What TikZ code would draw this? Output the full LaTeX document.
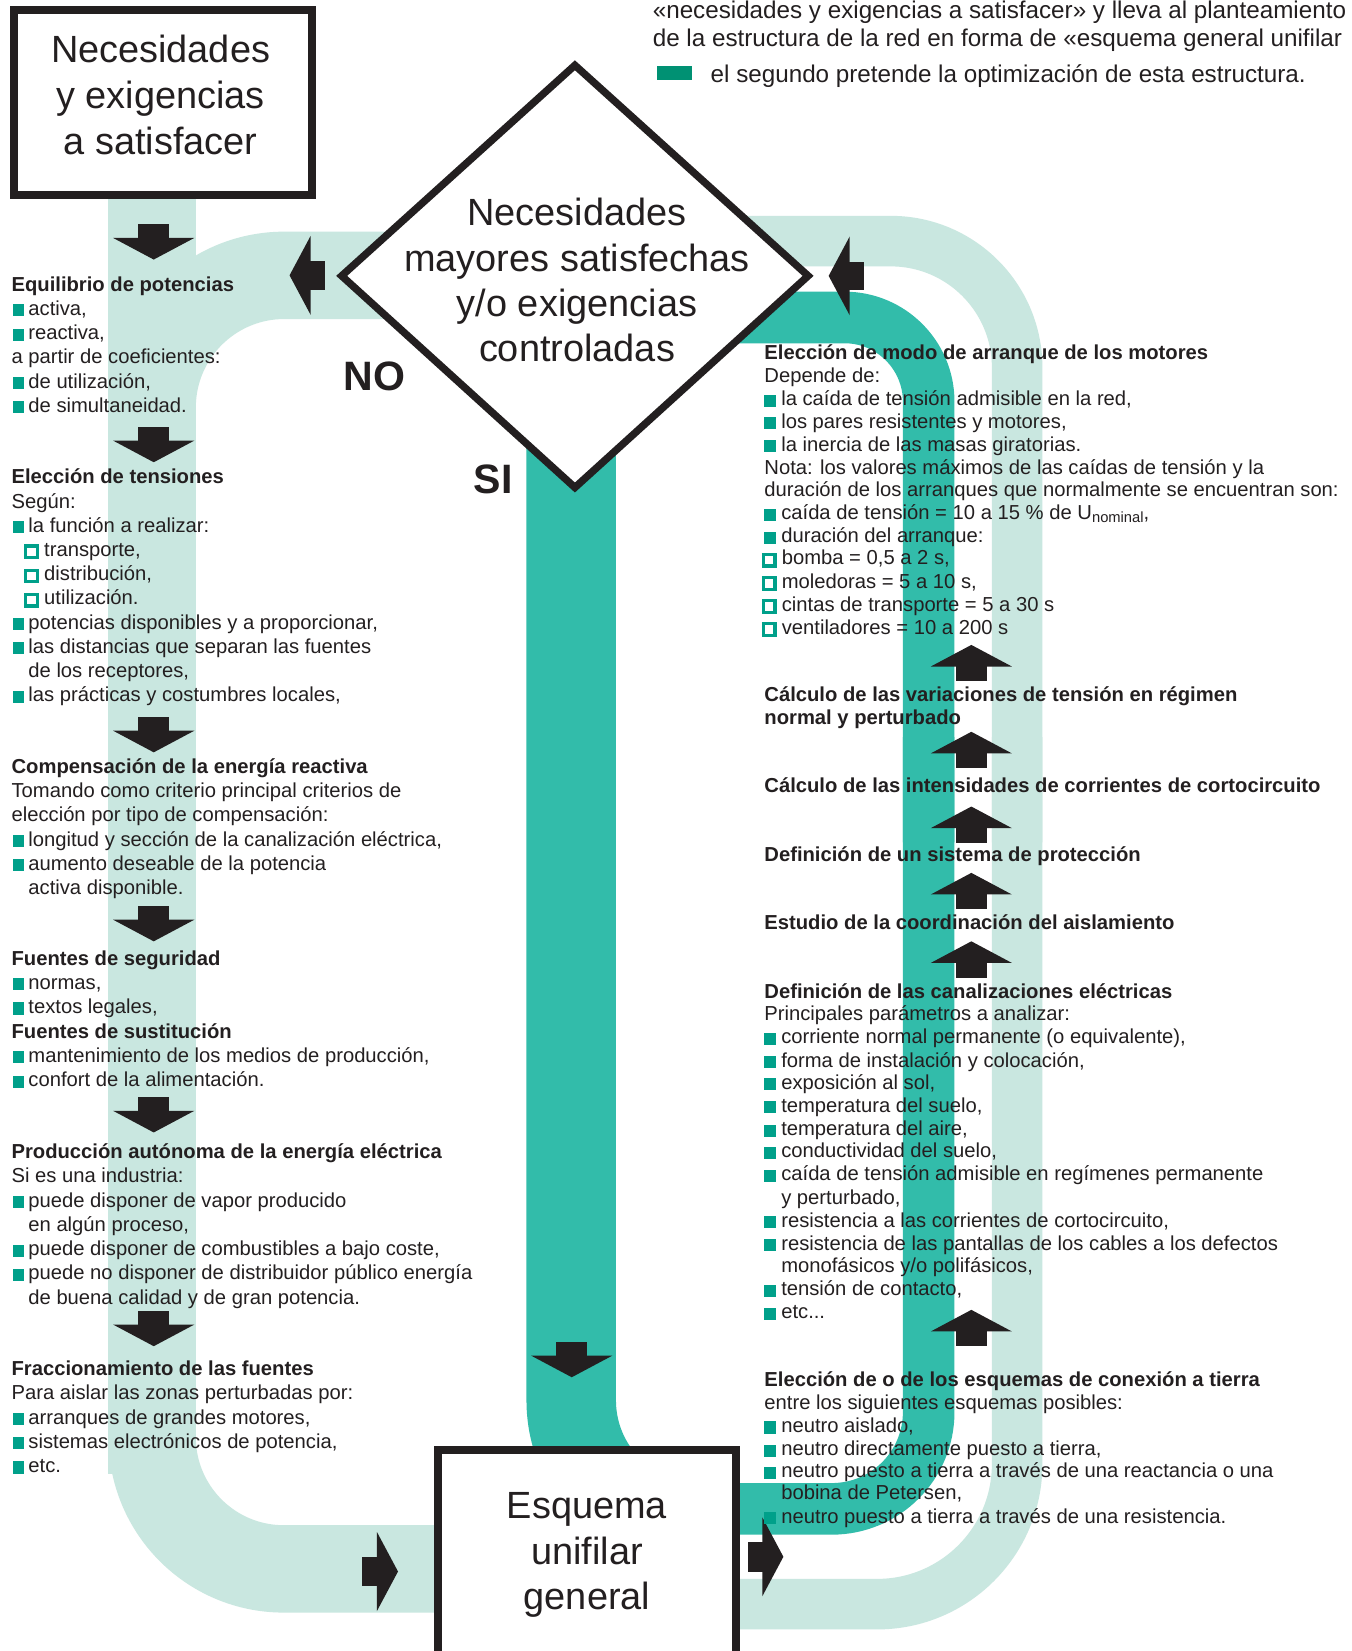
\documentclass[tikz,border=0pt]{standalone}
\usepackage{fontspec}
\setmainfont{Liberation Sans}
\definecolor{palec}{RGB}{201,231,224}
\definecolor{tealc}{RGB}{50,188,170}
\definecolor{bulletc}{RGB}{0,160,138}
\definecolor{legendc}{RGB}{0,145,115}
\definecolor{darkc}{RGB}{35,31,32}
\newcommand\bsqf{\textcolor{bulletc}{\rule[-1pt]{11pt}{11.5pt}}\hspace{4pt}}
\newcommand\bsqr{\textcolor{bulletc}{\rule[-1pt]{11pt}{11.5pt}}\hspace{5pt}}
\newcommand\bsqh{\textcolor{bulletc}{\setlength\fboxrule{3pt}\setlength\fboxsep{0pt}\raisebox{0.5pt}{\fbox{\rule{0pt}{8pt}\rule{8pt}{0pt}}}}\hspace{5pt}}
\tikzset{
  txt/.style={anchor=base west, inner sep=0pt, outer sep=0pt, text=darkc, font=\fontsize{19.2}{23}\selectfont},
  hd/.style={txt, font=\fontsize{19.2}{23}\selectfont\bfseries},
  toptxt/.style={txt, font=\fontsize{23}{27}\selectfont},
  bigtxt/.style={anchor=base, inner sep=0pt, outer sep=0pt, text=darkc, font=\fontsize{36}{43}\selectfont},
  yesno/.style={anchor=base west, inner sep=0pt, outer sep=0pt, text=darkc, font=\fontsize{39}{39}\selectfont\bfseries},
  paleband/.style={draw=palec, line width=#1},
  tealband/.style={draw=tealc, line width=#1},
  darr/.pic={\fill[darkc] (-14.5,-13) rectangle (14.5,0.5); \fill[darkc] (-38.5,0) -- (38.5,0) -- (0,20.5) -- cycle;},
  uarr/.pic={\fill[darkc] (-14.5,-0.5) rectangle (14.5,14); \fill[darkc] (-38.5,0) -- (38.5,0) -- (0,-20.5) -- cycle;},
  larr/.pic={\fill[darkc] (-0.5,-13.5) rectangle (14,13.5); \fill[darkc] (0,-37.5) -- (0,37.5) -- (-20,0) -- cycle;},
  rarr/.pic={\fill[darkc] (-14,-14) rectangle (0.5,14); \fill[darkc] (0,-37.5) -- (0,37.5) -- (20,0) -- cycle;}
}
\begin{document}
\begin{tikzpicture}[x=1pt,y=-1pt]
\useasboundingbox (0,0) rectangle (1284,1568);
\fill[white] (0,0) rectangle (1284,1568);

% ---------- bands ----------
\fill[palec] (103,186) rectangle (186,1400);
\draw[paleband=83, rounded corners=125.5] (400,261.5) -- (144.5,261.5) -- (144.5,600);
\draw[paleband=83, rounded corners=125] (144.5,1000) -- (144.5,1490) -- (450,1490);
\draw[paleband=48, rounded corners=120] (700,229) -- (966,229) -- (966,800);
\draw[paleband=48, rounded corners=133] (966,700) -- (966,1523.5) -- (690,1523.5);
\draw[tealband=49, rounded corners=80] (650,301.5) -- (882,301.5) -- (882,800);
\draw[tealband=49, rounded corners=92] (882,700) -- (882,1433) -- (690,1433);
\draw[tealband=85, rounded corners=120.5] (542.5,380) -- (542.5,1450.5) -- (690,1450.5);

% ---------- arrows ----------
\foreach \yy in {226,418.5,694,873.5,1055,1258} {\pic at (146,\yy) {darr};}
\foreach \yy in {633,715.5,786.5,849.5,914.5,1264.5} {\pic at (922.5,\yy) {uarr};}
\pic at (543,1287.5) {darr};
\pic at (295,261.5) {larr};
\pic at (807,262) {larr};
\pic at (358,1492.5) {rarr};
\pic at (724,1478.5) {rarr};

% ---------- boxes ----------
\draw[darkc, line width=7.5, fill=white] (13,9.2) rectangle (296.5,185.5);
\draw[darkc, line width=7.5, fill=white] (416,1377) rectangle (699,1620);
\draw[darkc, line width=7, fill=white, line join=miter] (546,62) -- (767.5,262) -- (546,463) -- (324.5,262) -- cycle;

\node[bigtxt] (b1) at (152.5,59.5) {Necesidades};
\node[bigtxt] (b2) at (152.5,103) {y exigencias};
\node[bigtxt] (b3) at (152.5,146.5) {a satisfacer};
\node[bigtxt] (d1) at (548,214.5) {Necesidades};
\node[bigtxt] (d2) at (548,257.5) {mayores satisfechas};
\node[bigtxt] (d3) at (548,300.5) {y/o exigencias};
\node[bigtxt] (d4) at (548,343.5) {controladas};
\node[bigtxt] (e1) at (557.5,1442.5) {Esquema};
\node[bigtxt] (e2) at (557.5,1485.5) {unifilar};
\node[bigtxt] (e3) at (557.5,1528.5) {general};
\node[yesno] (no) at (326.5,371) {NO};
\node[yesno] (si) at (450,468.5) {SI};

% ---------- top text ----------
\node[toptxt] (t1) at (620,18) {«necesidades y exigencias a satisfacer» y lleva al planteamiento};
\node[toptxt] (t2) at (620,44) {de la estructura de la red en forma de «esquema general unifilar};
\fill[legendc] (624,63) rectangle (657,76);
\node[toptxt] (t3) at (675,78) {el segundo pretende la optimización de esta estructura.};

% ---------- left column ----------
\node[hd]  (l01) at (11,276.5) {Equilibrio de potencias};
\node[txt] (l02) at (12,299.5) {\bsqf activa,};
\node[txt] (l03) at (12,322.5) {\bsqf reactiva,};
\node[txt] (l04) at (11,345.5) {a partir de coeficientes:};
\node[txt] (l05) at (12,368.5) {\bsqf de utilización,};
\node[txt] (l06) at (12,391.5) {\bsqf de simultaneidad.};
\node[hd]  (l07) at (11,459.5) {Elección de tensiones};
\node[txt] (l08) at (11,482.5) {Según:};
\node[txt] (l09) at (12,505.5) {\bsqf la función a realizar:};
\node[txt] (l10) at (23,528.5) {\bsqh transporte,};
\node[txt] (l11) at (23,551.5) {\bsqh distribución,};
\node[txt] (l12) at (23,574.5) {\bsqh utilización.};
\node[txt] (l13) at (12,597.5) {\bsqf potencias disponibles y a proporcionar,};
\node[txt] (l14) at (12,620.5) {\bsqf las distancias que separan las fuentes};
\node[txt] (l15) at (27,643.5) {de los receptores,};
\node[txt] (l16) at (12,666.5) {\bsqf las prácticas y costumbres locales,};
\node[hd]  (l17) at (11,734.5) {Compensación de la energía reactiva};
\node[txt] (l18) at (11,757.5) {Tomando como criterio principal criterios de};
\node[txt] (l19) at (11,780.5) {elección por tipo de compensación:};
\node[txt] (l20) at (12,803.5) {\bsqf longitud y sección de la canalización eléctrica,};
\node[txt] (l21) at (12,826.5) {\bsqf aumento deseable de la potencia};
\node[txt] (l22) at (27,849.5) {activa disponible.};
\node[hd]  (l23) at (11,916.5) {Fuentes de seguridad};
\node[txt] (l24) at (12,939.5) {\bsqf normas,};
\node[txt] (l25) at (12,962.5) {\bsqf textos legales,};
\node[hd]  (l26) at (11,986) {Fuentes de sustitución};
\node[txt] (l27) at (12,1009) {\bsqf mantenimiento de los medios de producción,};
\node[txt] (l28) at (12,1032) {\bsqf confort de la alimentación.};
\node[hd]  (l29) at (11,1100.5) {Producción autónoma de la energía eléctrica};
\node[txt] (l30) at (11,1123.5) {Si es una industria:};
\node[txt] (l31) at (12,1146.5) {\bsqf puede disponer de vapor producido};
\node[txt] (l32) at (27,1169.5) {en algún proceso,};
\node[txt] (l33) at (12,1192.5) {\bsqf puede disponer de combustibles a bajo coste,};
\node[txt] (l34) at (12,1215.5) {\bsqf puede no disponer de distribuidor público energía};
\node[txt] (l35) at (27,1238.5) {de buena calidad y de gran potencia.};
\node[hd]  (l36) at (11,1306.5) {Fraccionamiento de las fuentes};
\node[txt] (l37) at (11,1329.5) {Para aislar las zonas perturbadas por:};
\node[txt] (l38) at (12,1352.5) {\bsqf arranques de grandes motores,};
\node[txt] (l39) at (12,1375.5) {\bsqf sistemas electrónicos de potencia,};
\node[txt] (l40) at (12,1398.5) {\bsqf etc.};

% ---------- right column ----------
\node[hd]  (r01) at (726,341.5) {Elección de modo de arranque de los motores};
\node[txt] (r02) at (726,363.5) {Depende de:};
\node[txt] (r03) at (726,385.5) {\bsqr la caída de tensión admisible en la red,};
\node[txt] (r04) at (726,406.5) {\bsqr los pares resistentes y motores,};
\node[txt] (r05) at (726,428.5) {\bsqr la inercia de las masas giratorias.};
\node[txt] (r06) at (726,450.5) {Nota: los valores máximos de las caídas de tensión y la};
\node[txt] (r07) at (726,471.5) {duración de los arranques que normalmente se encuentran son:};
\node[txt] (r08) at (726,493.5) {\bsqr caída de tensión = 10 a 15 \% de U\raisebox{-3pt}{\fontsize{14}{14}\selectfont nominal},};
\node[txt] (r09) at (726,515.5) {\bsqr duración del arranque:};
\node[txt] (r10) at (723.5,536.5) {\bsqh bomba = 0,5 a 2 s,};
\node[txt] (r11) at (723.5,558.5) {\bsqh moledoras = 5 a 10 s,};
\node[txt] (r12) at (723.5,580.5) {\bsqh cintas de transporte = 5 a 30 s};
\node[txt] (r13) at (723.5,602.5) {\bsqh ventiladores = 10 a 200 s};
\node[hd]  (r14) at (726,666.5) {Cálculo de las variaciones de tensión en régimen};
\node[hd]  (r15) at (726,688.5) {normal y perturbado};
\node[hd]  (r16) at (726,752.5) {Cálculo de las intensidades de corrientes de cortocircuito};
\node[hd]  (r17) at (726,818.5) {Definición de un sistema de protección};
\node[hd]  (r18) at (726,882.5) {Estudio de la coordinación del aislamiento};
\node[hd]  (r19) at (726,948.5) {Definición de las canalizaciones eléctricas};
\node[txt] (r20) at (726,969.5) {Principales parámetros a analizar:};
\node[txt] (r21) at (726,991.5) {\bsqr corriente normal permanente (o equivalente),};
\node[txt] (r22) at (726,1013.5) {\bsqr forma de instalación y colocación,};
\node[txt] (r23) at (726,1034.5) {\bsqr exposición al sol,};
\node[txt] (r24) at (726,1056.5) {\bsqr temperatura del suelo,};
\node[txt] (r25) at (726,1078.5) {\bsqr temperatura del aire,};
\node[txt] (r26) at (726,1099.5) {\bsqr conductividad del suelo,};
\node[txt] (r27) at (726,1121.5) {\bsqr caída de tensión admisible en regímenes permanente};
\node[txt] (r28) at (742,1143.5) {y perturbado,};
\node[txt] (r29) at (726,1165.5) {\bsqr resistencia a las corrientes de cortocircuito,};
\node[txt] (r30) at (726,1187.5) {\bsqr resistencia de las pantallas de los cables a los defectos};
\node[txt] (r31) at (742,1208.5) {monofásicos y/o polifásicos,};
\node[txt] (r32) at (726,1230.5) {\bsqr tensión de contacto,};
\node[txt] (r33) at (726,1252.5) {\bsqr etc...};
\node[hd]  (r34) at (726,1316.5) {Elección de o de los esquemas de conexión a tierra};
\node[txt] (r35) at (726,1338.5) {entre los siguientes esquemas posibles:};
\node[txt] (r36) at (726,1360.5) {\bsqr neutro aislado,};
\node[txt] (r37) at (726,1382.5) {\bsqr neutro directamente puesto a tierra,};
\node[txt] (r38) at (726,1403.5) {\bsqr neutro puesto a tierra a través de una reactancia o una};
\node[txt] (r39) at (742,1424.5) {bobina de Petersen,};
\node[txt] (r40) at (726,1446.5) {\bsqr neutro puesto a tierra a través de una resistencia.};
\end{tikzpicture}
\end{document}
